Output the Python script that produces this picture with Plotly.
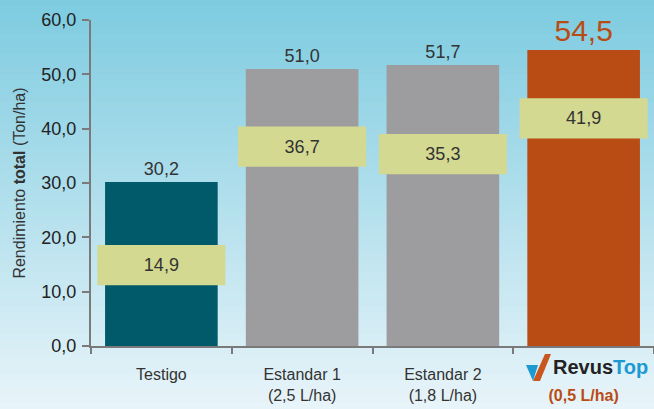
import plotly.graph_objects as go

categories = ["Testigo", "Estandar 1", "Estandar 2", "RevusTop"]
tick_labels = ["Testigo", "Estandar 1<br>(2,5 L/ha)", "Estandar 2<br>(1,8 L/ha)",
               "<br><span style='color:#B94B14'><b>(0,5 L/ha)</b></span>"]
total_yield = [30.2, 51.0, 51.7, 54.5]
inner_values = [14.9, 36.7, 35.3, 41.9]
total_labels = ["30,2", "51,0", "51,7", "54,5"]
inner_labels = ["14,9", "36,7", "35,3", "41,9"]
bar_colors = ["#005A69", "#9D9D9F", "#9D9D9F", "#B94B14"]

W, H = 654, 409
ML, MR, MT, MB = 91, 0, 20, 63
PW, PH = W - ML - MR, H - MT - MB

def px(x):
    return (x - ML) / PW

def py(y):
    return (H - MB - y) / PH

FONT = "Liberation Sans, Arial, sans-serif"

fig = go.Figure()

fig.add_trace(go.Bar(
    x=categories, y=total_yield, width=0.8,
    marker=dict(color=bar_colors, line=dict(width=0)),
    text=total_labels, textposition="outside",
    textfont=dict(size=[18, 18, 18, 30], color=["#333", "#333", "#333", "#B94B14"], family=FONT),
    cliponaxis=False, hoverinfo="skip",
))

box_h = 7.4
fig.add_trace(go.Bar(
    x=categories, y=[box_h] * 4, base=[v - box_h / 2 for v in inner_values], width=0.91,
    marker=dict(color="#D4D991", line=dict(width=0)),
    text=inner_labels, textposition="inside", insidetextanchor="middle",
    textfont=dict(size=18, color="#333", family=FONT),
    hoverinfo="skip",
))

# background gradient
top = (125, 203, 224)
bot = (232, 244, 249)
n = 60
shapes = []
for i in range(n):
    t0 = i / n
    t1 = (i + 1) / n
    t = (i + 0.5) / n
    c = tuple(int(round(top[k] + (bot[k] - top[k]) * t)) for k in range(3))
    shapes.append(dict(type="rect", xref="paper", yref="paper", layer="below",
                       x0=px(-5), x1=px(W + 5), y0=py(t0 * H - 0.5), y1=py(t1 * H + 0.5),
                       fillcolor="rgb(%d,%d,%d)" % c, line=dict(width=0)))

# logo icon
def path(pts):
    return "M " + " L ".join("%f,%f" % (px(x), py(y)) for x, y in pts) + " Z"

shapes.append(dict(type="path", xref="paper", yref="paper",
                   path=path([(526, 365), (538, 365), (533, 381)]),
                   fillcolor="#1B9AD2", line=dict(width=0)))
shapes.append(dict(type="path", xref="paper", yref="paper",
                   path=path([(533, 381), (545, 354), (551, 354), (540, 381)]),
                   fillcolor="#C8561E", line=dict(width=0)))

fig.update_layout(
    width=W, height=H,
    margin=dict(l=ML, r=MR, t=MT, b=MB, autoexpand=False),
    paper_bgcolor="#E8F4F9", plot_bgcolor="rgba(0,0,0,0)",
    barmode="overlay", showlegend=False, separators=",.",
    shapes=shapes,
    font=dict(family=FONT, color="#333"),
    xaxis=dict(type="category", categoryorder="array", categoryarray=categories,
               tickvals=categories, ticktext=tick_labels, tickfont=dict(size=16, color="#333"),
               showline=True, linecolor="#7A7A7A", linewidth=2, automargin=False,
               ticks="outside", tickson="boundaries", ticklen=6, tickcolor="#7A7A7A", tickwidth=1.5,
               ticklabelstandoff=13,
               showgrid=False, range=[-0.5, 3.5], fixedrange=True),
    yaxis=dict(range=[0, 60], dtick=10, tickformat=".1f", automargin=False,
               tickfont=dict(size=18, color="#222"),
               showline=True, linecolor="#7A7A7A", linewidth=2,
               ticks="outside", ticklen=7, tickcolor="#7A7A7A", tickwidth=2,
               ticklabelstandoff=2,
               showgrid=False, zeroline=False,
               title=dict(text="Rendimiento <b>total</b> (Ton/ha)", font=dict(size=16, color="#333"),
                          standoff=12)),
    annotations=[dict(x="RevusTop", y=py(367), xref="x", yref="paper",
                      text="<b><span style='color:#222'>Revus</span><span style='color:#1B9AD2'>Top</span></b>",
                      showarrow=False, xshift=17, font=dict(size=20, family=FONT),
                      yanchor="middle")],
)

fig.write_html("out.html", config={"displayModeBar": False},
               post_script="document.body.style.margin='0';document.body.style.overflow='hidden';")
